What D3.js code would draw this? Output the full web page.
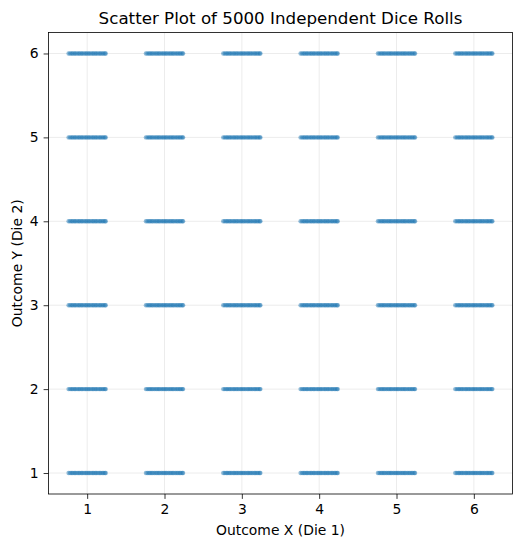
<!DOCTYPE html>
<html>
<head>
<meta charset="utf-8">
<script src="https://cdn.jsdelivr.net/npm/d3@7"></script>
<style>
  body { margin: 0; background: #fff; }
  text { font-family: "DejaVu Sans", sans-serif; fill: #000; }
</style>
</head>
<body>
<div id="chart"></div>
<script>
// die faces, on both axes
const facesX = [1, 2, 3, 4, 5, 6];
const facesY = [1, 2, 3, 4, 5, 6];
// horizontal jitter offsets seen inside each cluster (about -0.24 .. +0.24)
const jitterOffsets = [-0.24, -0.22, -0.2, -0.185, -0.165, -0.15, -0.13, -0.11, -0.095, -0.075,
  -0.06, -0.04, -0.02, -0.005, 0.015, 0.03, 0.05, 0.07, 0.085, 0.105, 0.12, 0.14, 0.16,
  0.175, 0.195, 0.21, 0.23, 0.24];
const titleText = "Scatter Plot of 5000 Independent Dice Rolls";
const xLabel = "Outcome X (Die 1)";
const yLabel = "Outcome Y (Die 2)";

const W = 523, H = 547;
const m = { left: 48.5, right: 10.5, top: 32.5, bottom: 53 };
const iw = W - m.left - m.right, ih = H - m.top - m.bottom;

const svg = d3.select("#chart").append("svg").attr("width", W).attr("height", H);
const g = svg.append("g").attr("transform", `translate(${m.left},${m.top})`);

const x = d3.scaleLinear().domain([0.5, 6.5]).range([0, iw]);
const y = d3.scaleLinear().domain([0.75, 6.25]).range([ih, 0]);

// grid
g.append("g").selectAll("line").data(facesX).enter().append("line")
  .attr("x1", d => x(d)).attr("x2", d => x(d)).attr("y1", 0).attr("y2", ih)
  .attr("stroke", "#b0b0b0").attr("stroke-opacity", 0.3).attr("stroke-width", 0.8);
g.append("g").selectAll("line").data(facesY).enter().append("line")
  .attr("y1", d => y(d)).attr("y2", d => y(d)).attr("x1", 0).attr("x2", iw)
  .attr("stroke", "#b0b0b0").attr("stroke-opacity", 0.3).attr("stroke-width", 0.8);

// points
let pts = [];
facesX.forEach(fx => facesY.forEach(fy => jitterOffsets.forEach(o => pts.push({ x: fx + o, y: fy }))));
g.append("g").selectAll("circle").data(pts).enter().append("circle")
  .attr("cx", d => x(d.x)).attr("cy", d => y(d.y)).attr("r", 2.2)
  .attr("fill", "#1f77b4").attr("fill-opacity", 0.5);

// axes
const xAxis = g.append("g").attr("transform", `translate(0,${ih})`)
  .call(d3.axisBottom(x).tickValues(facesX).tickSize(4.9).tickPadding(4.9).tickFormat(d3.format("d")));
const yAxis = g.append("g")
  .call(d3.axisLeft(y).tickValues(facesY).tickSize(4.9).tickPadding(4.9).tickFormat(d3.format("d")));
[xAxis, yAxis].forEach(a => {
  a.select(".domain").remove();
  a.selectAll("text").style("font-size", "13.9px").style("font-family", "DejaVu Sans");
  a.selectAll("line").attr("stroke", "#000").attr("stroke-width", 0.8);
});

// frame
g.append("rect").attr("width", iw).attr("height", ih)
  .attr("fill", "none").attr("stroke", "#000").attr("stroke-width", 0.8);

svg.append("text").attr("x", m.left + iw / 2).attr("y", 24).attr("text-anchor", "middle")
  .style("font-size", "16.7px").text(titleText);
svg.append("text").attr("x", m.left + iw / 2).attr("y", 535).attr("text-anchor", "middle")
  .style("font-size", "13.9px").text(xLabel);
svg.append("text").attr("transform", `translate(22,${m.top + ih / 2}) rotate(-90)`)
  .attr("text-anchor", "middle").style("font-size", "13.9px").text(yLabel);
</script>
</body>
</html>
